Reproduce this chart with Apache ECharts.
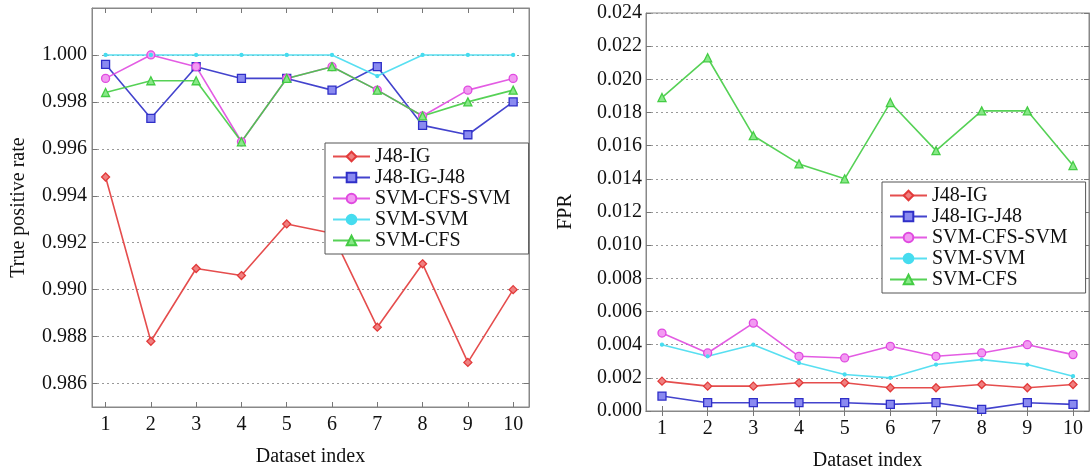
<!DOCTYPE html>
<html>
<head>
    <meta charset="utf-8">
    <title>TPR / FPR</title>
    <script type="text/javascript" src="https://cdn.jsdelivr.net/npm/echarts@6/dist/echarts.min.js"></script>
    <style type="text/css">
    html,body{
        margin: 0;
        height: 100%;
        background: #fff;
    }
        #main{
            width: 1092px;
            height: 467px;
        }
    </style>
</head>
<body>
    <div id="main"></div>

    <script type="text/javascript">
// dataset index
var idx = [1, 2, 3, 4, 5, 6, 7, 8, 9, 10];
var names = ['J48-IG', 'J48-IG-J48', 'SVM-CFS-SVM', 'SVM-SVM', 'SVM-CFS'];

// true positive rate (left)
var tprJ48IG     = [0.9948, 0.9878, 0.9909, 0.9906, 0.9928, 0.9924, 0.9884, 0.9911, 0.9869, 0.9900];
var tprJ48IGJ48  = [0.9996, 0.9973, 0.9995, 0.9990, 0.9990, 0.9985, 0.9995, 0.9970, 0.9966, 0.9980];
var tprCfsSvm    = [0.9990, 1.0000, 0.9995, 0.9963, 0.9990, 0.9995, 0.9985, 0.9974, 0.9985, 0.9990];
var tprSvmSvm    = [1.0000, 1.0000, 1.0000, 1.0000, 1.0000, 1.0000, 0.9991, 1.0000, 1.0000, 1.0000];
var tprSvmCfs    = [0.9984, 0.9989, 0.9989, 0.9963, 0.9990, 0.9995, 0.9985, 0.9974, 0.9980, 0.9985];
var tprTicks     = [0.986, 0.988, 0.990, 0.992, 0.994, 0.996, 0.998, 1.000];

// false positive rate (right)
var fprJ48IG     = [0.0018, 0.0015, 0.0015, 0.0017, 0.0017, 0.0014, 0.0014, 0.0016, 0.0014, 0.0016];
var fprJ48IGJ48  = [0.0009, 0.0005, 0.0005, 0.0005, 0.0005, 0.0004, 0.0005, 0.0001, 0.0005, 0.0004];
var fprCfsSvm    = [0.0047, 0.0035, 0.0053, 0.0033, 0.0032, 0.0039, 0.0033, 0.0035, 0.0040, 0.0034];
var fprSvmSvm    = [0.0040, 0.0033, 0.0040, 0.0029, 0.0022, 0.0020, 0.0028, 0.0031, 0.0028, 0.0021];
var fprSvmCfs    = [0.0189, 0.0213, 0.0166, 0.0149, 0.0140, 0.0186, 0.0157, 0.0181, 0.0181, 0.0148];

var colors = ['#e23a3a', '#2f2fc8', '#e04ae0', '#46dcef', '#44cc44'];
var fills  = ['#f08080', '#8a8af0', '#f29af2', '#46dcef', '#88e888'];
var symbols = ['diamond', 'rect', 'circle', 'circle', 'triangle'];
var symbolSizes = [8, 8, 8, 3, 8];

var FONT = "'Liberation Serif', 'Times New Roman', serif";
var FS = 20;

function pairs(ys) {
    return idx.map(function (x, i) { return [x, ys[i]]; });
}

function xAxes(gridIndex, min, max) {
    return [
        {
            type: 'value', gridIndex: gridIndex, position: 'bottom', min: min, max: max,
            name: 'Dataset index', nameLocation: 'middle', nameGap: 40,
            nameTextStyle: {fontFamily: FONT, fontSize: FS, color: '#111'},
            axisLine: {show: true, lineStyle: {color: '#888'}},
            axisTick: {show: true, inside: true, length: 5, customValues: idx, lineStyle: {color: '#777'}},
            axisLabel: {customValues: idx, margin: 8, fontFamily: FONT, fontSize: FS, color: '#111'},
            splitLine: {show: false}
        },
        {
            type: 'value', gridIndex: gridIndex, position: 'top', min: min, max: max,
            axisLine: {show: true, lineStyle: {color: '#888'}},
            axisTick: {show: true, inside: true, length: 5, customValues: idx, lineStyle: {color: '#777'}},
            axisLabel: {show: false},
            splitLine: {show: false}
        }
    ];
}

var gridLine = {show: true, lineStyle: {color: '#999', type: [2, 3], width: 1}};

var myChart = echarts.init(document.getElementById('main'));

var yAxes = [
    {
        type: 'value', gridIndex: 0, position: 'left', min: 0.985, max: 1.002,
        name: 'True positive rate', nameLocation: 'middle', nameGap: 63, nameRotate: 90,
        nameTextStyle: {fontFamily: FONT, fontSize: FS, color: '#111'},
        axisLine: {show: true, lineStyle: {color: '#888'}},
        axisTick: {show: true, inside: true, length: 5, customValues: tprTicks, lineStyle: {color: '#777'}},
        axisLabel: {customValues: tprTicks, margin: 5, fontFamily: FONT, fontSize: FS, color: '#111',
            formatter: function (v) { return v.toFixed(3); }},
        splitLine: gridLine
    },
    {
        type: 'value', gridIndex: 0, position: 'right', min: 0.985, max: 1.002,
        axisLine: {show: true, lineStyle: {color: '#888'}},
        axisTick: {show: true, inside: true, length: 5, customValues: tprTicks, lineStyle: {color: '#777'}},
        axisLabel: {show: false},
        splitLine: {show: false}
    },
    {
        type: 'value', gridIndex: 1, position: 'left', min: 0, max: 0.024, interval: 0.002,
        name: 'FPR', nameLocation: 'middle', nameGap: 70, nameRotate: 90,
        nameTextStyle: {fontFamily: FONT, fontSize: FS, color: '#111'},
        axisLine: {show: true, lineStyle: {color: '#888'}},
        axisTick: {show: true, inside: true, length: 5, lineStyle: {color: '#777'}},
        axisLabel: {margin: 4, fontFamily: FONT, fontSize: FS, color: '#111',
            formatter: function (v) { return v.toFixed(3); }},
        splitLine: gridLine
    },
    {
        type: 'value', gridIndex: 1, position: 'right', min: 0, max: 0.024, interval: 0.002,
        axisLine: {show: true, lineStyle: {color: '#888'}},
        axisTick: {show: true, inside: true, length: 5, lineStyle: {color: '#777'}},
        axisLabel: {show: false},
        splitLine: {show: false}
    }
];

var leftData = [tprJ48IG, tprJ48IGJ48, tprCfsSvm, tprSvmSvm, tprSvmCfs];
var rightData = [fprJ48IG, fprJ48IGJ48, fprCfsSvm, fprSvmSvm, fprSvmCfs];

function makeSeries(data, xi, yi) {
    return data.map(function (ys, i) {
        return {
            name: names[i],
            type: 'line',
            xAxisIndex: xi,
            yAxisIndex: yi,
            data: pairs(ys),
            symbol: symbols[i],
            symbolSize: symbolSizes[i],
            showAllSymbol: true,
            lineStyle: {color: colors[i], width: 1.6, opacity: 0.9},
            itemStyle: {color: fills[i], borderColor: colors[i], borderWidth: 1.3},
            emphasis: {disabled: true}
        };
    });
}

function legend(left, top) {
    return {
        data: names,
        orient: 'vertical',
        left: left,
        top: top,
        padding: [3, 18, 3, 7],
        itemGap: 0,
        itemWidth: 37,
        itemHeight: 12,
        backgroundColor: '#fff',
        borderColor: '#555',
        borderWidth: 1,
        selectedMode: false,
        textStyle: {fontFamily: FONT, fontSize: FS, color: '#111', lineHeight: 21}
    };
}

myChart.setOption({
    animation: false,
    grid: [
        {left: 92, top: 8, width: 437, height: 399, show: true, borderColor: '#888', borderWidth: 1,
            outerBoundsMode: 'none'},
        {left: 646, top: 13, width: 443, height: 398, show: true, borderColor: '#888', borderWidth: 1,
            outerBoundsMode: 'none'}
    ],
    legend: [legend(325, 143), legend(882, 182)],
    xAxis: xAxes(0, 0.7, 10.35).concat(xAxes(1, 0.65, 10.35)),
    yAxis: yAxes,
    series: makeSeries(leftData, 0, 0).concat(makeSeries(rightData, 2, 2))
});
    </script>

</body>
</html>
